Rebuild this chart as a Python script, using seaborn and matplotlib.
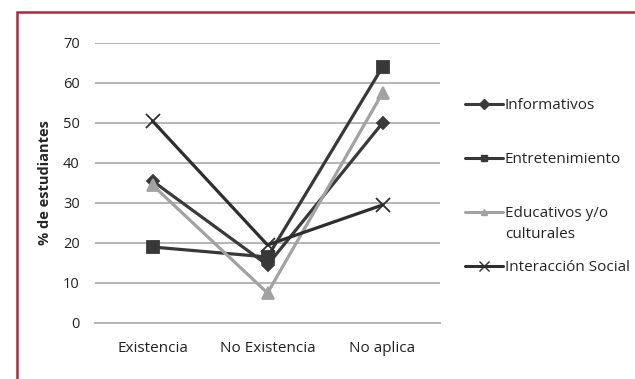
import matplotlib
matplotlib.use("Agg")
import matplotlib.pyplot as plt
import seaborn as sns
import pandas as pd
from matplotlib.patches import Rectangle
from matplotlib.lines import Line2D

categories = ["Existencia", "No Existencia", "No aplica"]
series_names = ["Informativos", "Entretenimiento", "Educativos y/o", "Interacción Social"]
label_extra = "culturales"
informativos = [35.5, 14.5, 50]
entretenimiento = [19, 16.5, 64]
educativos = [34.5, 7.5, 57.5]
interaccion = [50.5, 19.5, 29.5]
y_ticks = [0, 10, 20, 30, 40, 50, 60, 70]

values = [informativos, entretenimiento, educativos, interaccion]

sns.set_style("white")
plt.rcParams['font.family'] = ['Open Sans', 'DejaVu Sans']

fig = plt.figure(figsize=(6.35, 3.79), dpi=100)
ax = fig.add_axes([95/635, 1-323/379, 345/635, 280/379])

colors = ["#3a3a3a", "#383838", "#a2a2a2", "#2e2e2e"]
markers = ["D", "s", "^", "x"]
msizes = [6, 8, 8, 10]

for name, vals, c, m, ms in zip(series_names, values, colors, markers, msizes):
    d = pd.DataFrame({"cat": list(range(len(categories))), "val": vals})
    sns.lineplot(data=d, x="cat", y="val", color=c, marker=m, markersize=ms,
                 markeredgecolor=c, markeredgewidth=1.3, linewidth=2.3, ax=ax)

ax.set_xlim(-0.5, 2.5)
ax.set_ylim(0, 70)
ax.set_yticks(y_ticks)
ax.set_yticklabels([str(t) for t in y_ticks], fontsize=10.5, color="#222222")
ax.set_xticks(range(len(categories)))
ax.set_xticklabels(categories, fontsize=11, color="#222222")
ax.tick_params(axis="y", length=0, pad=11)
ax.tick_params(axis="x", length=0, pad=13)
ax.yaxis.grid(True, color="#b5b5b5", linewidth=1.4)
ax.set_axisbelow(True)
for s in ["top", "right", "left"]:
    ax.spines[s].set_visible(False)
ax.spines["bottom"].set_color("#b5b5b5")
ax.spines["bottom"].set_linewidth(1.4)
ax.set_xlabel("")
ax.set_ylabel("% de estudiantes", fontsize=10.5, fontweight="bold", labelpad=8)

handles = [Line2D([0], [0], color=c, marker=m, linewidth=2.2,
                  markersize=5 if m != "x" else 7, markeredgecolor=c)
           for c, m in zip(colors, markers)]
fig.legend(handles, series_names, loc="upper left", bbox_to_anchor=(465/635, 1-98/379),
           frameon=False, fontsize=11, handlelength=2.5, handletextpad=0.1,
           labelspacing=2.55, borderaxespad=0, borderpad=0)
fig.text(505/635, 1-234/379, label_extra, fontsize=11, color="#222222", va="center", ha="left")

fig.patches.append(Rectangle((17/635, -0.05), 1.2, 1-12/379+0.05, transform=fig.transFigure,
                             fill=False, edgecolor="#b3263c", linewidth=1.8))

fig.savefig("out.png", dpi=100)
